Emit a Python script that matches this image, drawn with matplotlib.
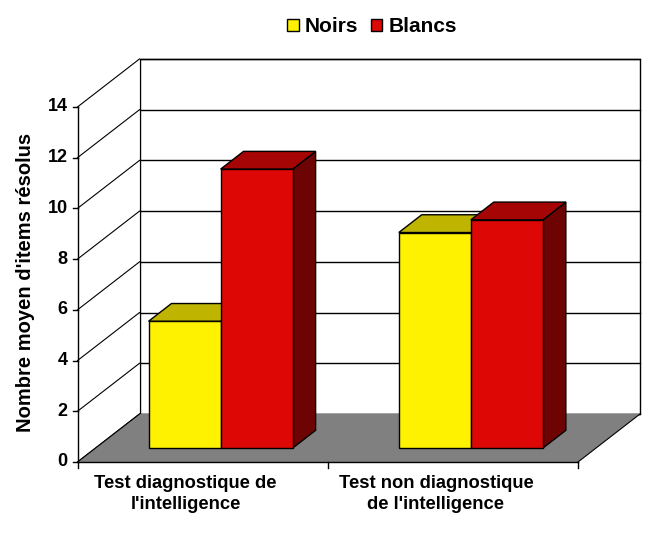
import numpy as np
import matplotlib
matplotlib.use("Agg")
import matplotlib.pyplot as plt
from matplotlib.patches import Polygon, Patch

plt.rcParams['font.family'] = ['Liberation Sans', 'DejaVu Sans']
plt.rcParams['font.weight'] = 'bold'

# data
categories = ["Test diagnostique de\nl'intelligence", "Test non diagnostique\nde l'intelligence"]
series = ["Noirs", "Blancs"]
noirs = [5.0, 8.5]
blancs = [11.0, 9.0]
y_ticks = [0, 2, 4, 6, 8, 10, 12, 14]
y_label = "Nombre moyen d'items résolus"

# colours: front, top, side
yellow = ("#FFF200", "#BFB500", "#7F7900")
red = ("#DD0806", "#A50505", "#6E0303")
floor_col = "#808080"

W, H = 655, 537
fig = plt.figure(figsize=(W / 100, H / 100), dpi=100)
ax = fig.add_axes([0, 0, 1, 1])

# axes so that x is in category units and y in value units (oblique 3d look)
px_x = 250.25          # pixels per category
px_y = 25.36           # pixels per unit
x0_px, y0_px = 77.5, 462
ax.set_xlim(-x0_px / px_x, (W - x0_px) / px_x)
ax.set_ylim(-(H - y0_px) / px_y, y0_px / px_y)
ax.axis('off')

ymax = y_ticks[-1]
ncat = len(categories)
DX, DY = 62 / px_x, 48 / px_y   # full depth of the box

# back wall
ax.add_patch(Polygon([(DX, DY), (ncat + DX, DY), (ncat + DX, ymax + DY), (DX, ymax + DY)],
                     closed=True, fc='white', ec='black', lw=1, zorder=1))
# left wall
ax.add_patch(Polygon([(0, 0), (DX, DY), (DX, ymax + DY), (0, ymax)],
                     closed=True, fc='white', ec='none', zorder=1))
for v in y_ticks:
    ax.plot([DX, ncat + DX], [v + DY, v + DY], color='black', lw=1, zorder=2)
    ax.plot([0, DX], [v, v + DY], color='black', lw=0.8, zorder=2)
# floor
ax.add_patch(Polygon([(0, 0), (ncat, 0), (ncat + DX, DY), (DX, DY)],
                     closed=True, fc=floor_col, ec='none', zorder=3))
ax.plot([ncat, ncat + DX], [0, DY], color='black', lw=0.8, zorder=3)
ax.plot([0, DX], [0, DY], color='black', lw=0.8, zorder=3)

# front axes lines and ticks
ax.plot([0, 0], [0, ymax], color='black', lw=1, zorder=6)
ax.plot([0, ncat], [0, 0], color='black', lw=1, zorder=6)
tick_dx = 5 / px_x
for v in y_ticks:
    ax.plot([-tick_dx, 0], [v, v], color='black', lw=1, zorder=6)
    ax.text(-10 / px_x, v, str(v), ha='right', va='center', fontsize=13, fontweight='bold')
for i in range(ncat + 1):
    ax.plot([i, i], [0, -6 / px_y], color='black', lw=1, zorder=6)

# bars
f0, f1 = 0.29, 0.66
bw = 0.288


def draw_bar(xl, val, cols, z):
    xs = xl + f0 * DX
    yb = f0 * DY
    yt = val + f0 * DY
    ddx, ddy = (f1 - f0) * DX, (f1 - f0) * DY
    xr = xs + bw
    ax.add_patch(Polygon([(xr, yb), (xr + ddx, yb + ddy), (xr + ddx, yt + ddy), (xr, yt)],
                         closed=True, fc=cols[2], ec='black', lw=1, zorder=z))
    ax.add_patch(Polygon([(xs, yt), (xr, yt), (xr + ddx, yt + ddy), (xs + ddx, yt + ddy)],
                         closed=True, fc=cols[1], ec='black', lw=1, zorder=z))
    ax.add_patch(Polygon([(xs, yb), (xr, yb), (xr, yt), (xs, yt)],
                         closed=True, fc=cols[0], ec='black', lw=1, zorder=z))


for i in range(ncat):
    c = i + 0.5
    draw_bar(c - bw, noirs[i], yellow, 4 + 2 * i)
    draw_bar(c, blancs[i], red, 5 + 2 * i)

# category labels
for i, lab in enumerate(categories):
    ax.text(i + 0.5 - 17 / px_x, -32 / px_y, lab, ha='center', va='center',
            fontsize=13.2, fontweight='bold', linespacing=1.32)

# y label
fig.text(26 / W, 1 - 282 / H, y_label, rotation=90, ha='center', va='center',
         fontsize=14.5, fontweight='bold')

# legend
handles = [Patch(fc=yellow[0], ec='black', lw=1, label=series[0]),
           Patch(fc=red[0], ec='black', lw=1, label=series[1])]
fig.legend(handles=handles, loc='center', bbox_to_anchor=(372 / W, 1 - 27 / H), ncol=2,
           frameon=False, fontsize=15, handlelength=0.55, handleheight=0.55,
           handletextpad=0.3, columnspacing=0.6, borderpad=0)

fig.savefig("out.png", dpi=100)
